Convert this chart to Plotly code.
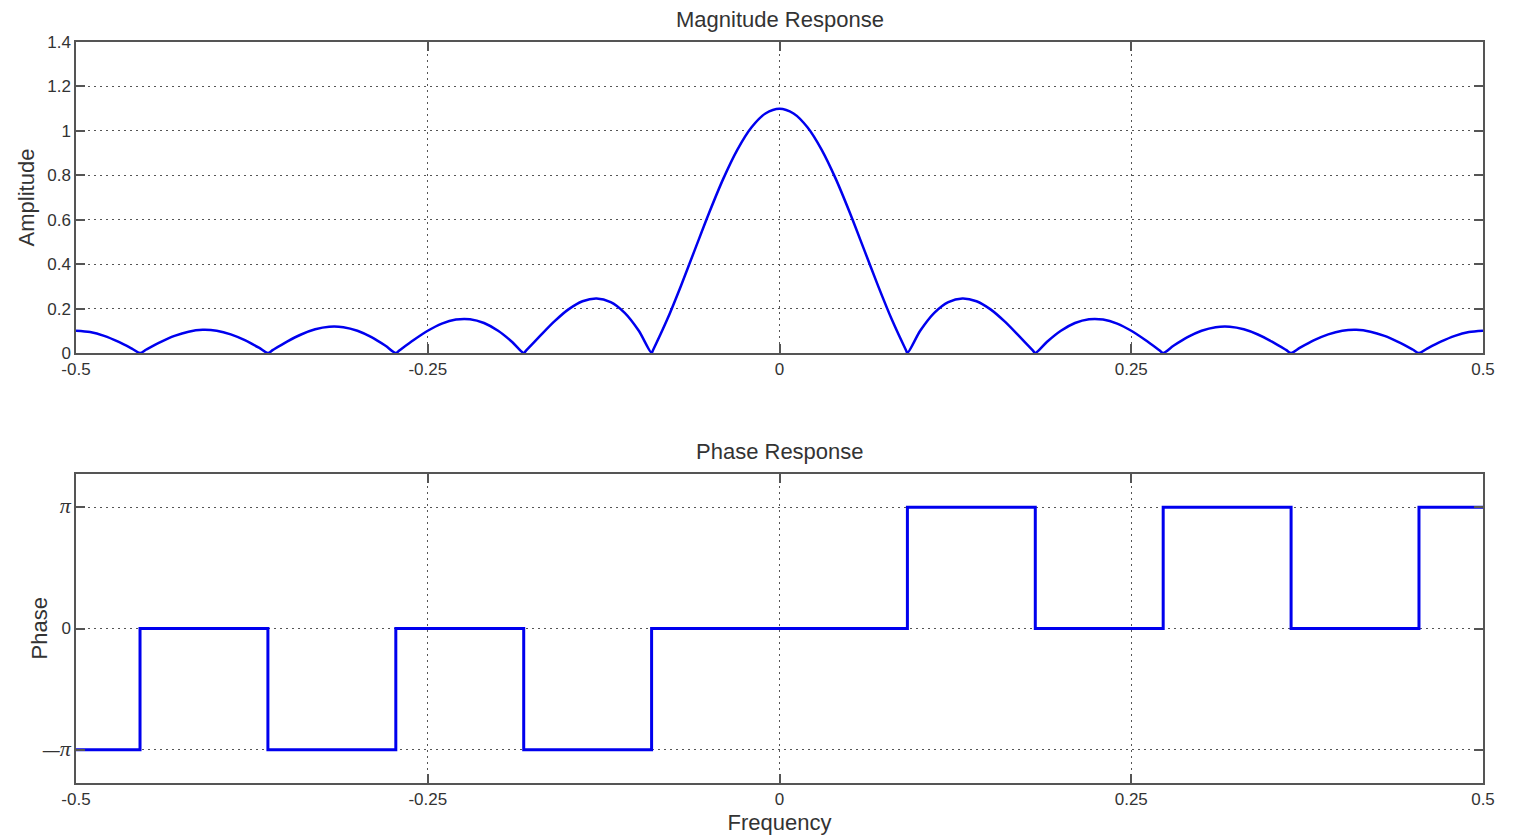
import plotly.graph_objects as go

# ---- Magnitude response ----
freq_mag = [-0.50, -0.49, -0.48, -0.47, -0.46, -0.4545, -0.45, -0.44, -0.43, -0.42, -0.41,
            -0.40, -0.39, -0.38, -0.37, -0.3636, -0.36, -0.35, -0.34, -0.33, -0.32, -0.31,
            -0.30, -0.29, -0.28, -0.2727, -0.27, -0.26, -0.25, -0.24, -0.23, -0.22, -0.21,
            -0.20, -0.19, -0.1818, -0.18, -0.17, -0.16, -0.15, -0.14, -0.13, -0.12, -0.11,
            -0.10, -0.0909, -0.09, -0.08, -0.07, -0.06, -0.05, -0.04, -0.03, -0.02, -0.01,
            0.00,
            0.01, 0.02, 0.03, 0.04, 0.05, 0.06, 0.07, 0.08, 0.09, 0.0909,
            0.10, 0.11, 0.12, 0.13, 0.14, 0.15, 0.16, 0.17, 0.18, 0.1818,
            0.19, 0.20, 0.21, 0.22, 0.23, 0.24, 0.25, 0.26, 0.27, 0.2727,
            0.28, 0.29, 0.30, 0.31, 0.32, 0.33, 0.34, 0.35, 0.36, 0.3636,
            0.37, 0.38, 0.39, 0.40, 0.41, 0.42, 0.43, 0.44, 0.45, 0.4545,
            0.46, 0.47, 0.48, 0.49, 0.50]
amplitude = [0.1000, 0.0941, 0.0772, 0.0511, 0.0189, 0.0, 0.0158, 0.0490, 0.0769, 0.0960, 0.1041,
             0.1000, 0.0840, 0.0576, 0.0238, 0.0, 0.0139, 0.0510, 0.0832, 0.1066, 0.1182, 0.1161,
             0.1000, 0.0711, 0.0323, 0.0, 0.0125, 0.0584, 0.1000, 0.1322, 0.1506, 0.1520, 0.1350,
             0.1000, 0.0496, 0.0, 0.0117, 0.0780, 0.1421, 0.1963, 0.2330, 0.2458, 0.2294, 0.1810,
             0.1000, 0.0, 0.0113, 0.1480, 0.3031, 0.4677, 0.6314, 0.7838, 0.9146, 1.0151, 1.0783,
             1.1000,
             1.0783, 1.0151, 0.9146, 0.7838, 0.6314, 0.4677, 0.3031, 0.1480, 0.0113, 0.0,
             0.1000, 0.1810, 0.2294, 0.2458, 0.2330, 0.1963, 0.1421, 0.0780, 0.0117, 0.0,
             0.0496, 0.1000, 0.1350, 0.1520, 0.1506, 0.1322, 0.1000, 0.0584, 0.0125, 0.0,
             0.0323, 0.0711, 0.1000, 0.1161, 0.1182, 0.1066, 0.0832, 0.0510, 0.0139, 0.0,
             0.0238, 0.0576, 0.0840, 0.1000, 0.1041, 0.0960, 0.0769, 0.0490, 0.0158, 0.0,
             0.0189, 0.0511, 0.0772, 0.0941, 0.1000]

# ---- Phase response (step levels) ----
freq_phase = [-0.5, -0.4545, -0.3636, -0.2727, -0.1818, -0.0909, 0.0909, 0.1818, 0.2727,
              0.3636, 0.4545, 0.5]
phase = [-3.14159, 0.0, -3.14159, 0.0, -3.14159, 0.0, 3.14159, 0.0, 3.14159, 0.0, 3.14159, 3.14159]

# ---- ticks ----
x_tickvals = [-0.5, -0.25, 0, 0.25, 0.5]
x_ticktext = ["-0.5", "-0.25", "0", "0.25", "0.5"]
mag_tickvals = [0, 0.2, 0.4, 0.6, 0.8, 1.0, 1.2, 1.4]
mag_ticktext = ["0", "0.2", "0.4", "0.6", "0.8", "1", "1.2", "1.4"]
ph_tickvals = [-3.14159, 0, 3.14159]
PI = "<span style=\"font-family:Liberation Serif;font-size:22px\"><i>\u03c0</i></span>"
ph_ticktext = ["\u2014" + PI, "0", PI]

LINE = "#0000ee"
AX = "#555555"
TXT = "#333333"
GRID = "#555555"
FONT = "Liberation Sans"
TICKSIZE = 17
TITLESIZE = 22

fig = go.Figure()
fig.add_trace(go.Scatter(x=freq_mag, y=amplitude, mode="lines",
                         line=dict(color=LINE, width=2.5, shape="spline", smoothing=0.8),
                         xaxis="x", yaxis="y", showlegend=False))
fig.add_trace(go.Scatter(x=freq_phase, y=phase, mode="lines",
                         line=dict(color=LINE, width=3, shape="hv"),
                         xaxis="x2", yaxis="y2", showlegend=False))

common = dict(showline=True, linecolor=AX, linewidth=1.5, mirror="ticks",
              ticks="inside", ticklen=9, tickcolor=AX, tickwidth=1.5,
              showgrid=True, gridcolor=GRID, griddash="1.5px,4.5px", gridwidth=1,
              zeroline=False, tickfont=dict(family=FONT, size=TICKSIZE, color=TXT))
common_x = dict(range=[-0.5, 0.5], tickvals=x_tickvals, ticktext=x_ticktext, **common)

fig.update_layout(
    width=1513, height=840,
    margin=dict(l=68, r=38, t=34, b=65),
    paper_bgcolor="white", plot_bgcolor="white",
    font=dict(family=FONT, color=TXT),
    xaxis=dict(domain=[0, 1], anchor="y", **common_x),
    yaxis=dict(domain=[0.5803, 1], anchor="x", range=[0, 1.4],
               tickvals=mag_tickvals, ticktext=mag_ticktext,
               title=dict(text="Amplitude", font=dict(family=FONT, size=TITLESIZE, color=TXT), standoff=6),
               **common),
    xaxis2=dict(domain=[0, 1], anchor="y2",
                title=dict(text="Frequency", font=dict(family=FONT, size=TITLESIZE, color=TXT), standoff=6),
                **common_x),
    yaxis2=dict(domain=[0, 0.417], anchor="x2", range=[-4, 4],
                tickvals=ph_tickvals, ticktext=ph_ticktext, **common),
    annotations=[
        dict(text="Magnitude Response", xref="paper", yref="paper", x=0.5, y=1.0,
             yshift=8, xanchor="center", yanchor="bottom", showarrow=False,
             font=dict(family=FONT, size=TITLESIZE, color=TXT)),
        dict(text="Phase Response", xref="paper", yref="paper", x=0.5, y=0.417,
             yshift=8, xanchor="center", yanchor="bottom", showarrow=False,
             font=dict(family=FONT, size=TITLESIZE, color=TXT)),
        dict(text="Phase", xref="paper", yref="paper", x=0, y=0.2085, xshift=-36,
             xanchor="center", yanchor="middle", textangle=-90, showarrow=False,
             font=dict(family=FONT, size=TITLESIZE, color=TXT)),
    ],
)

fig.write_html("out.html")
